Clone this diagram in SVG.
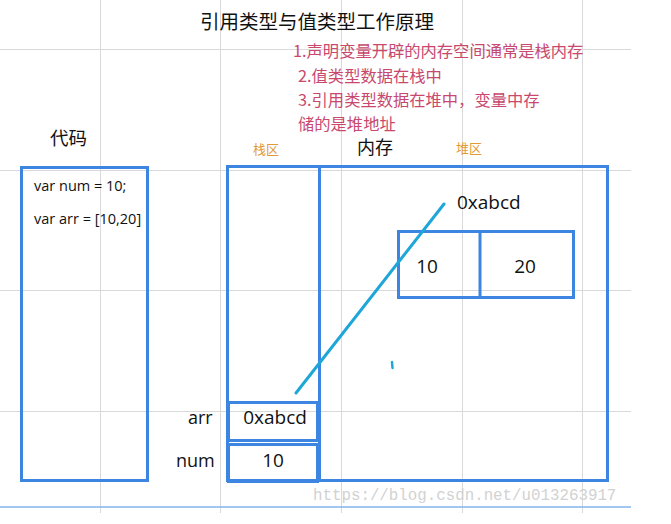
<svg xmlns="http://www.w3.org/2000/svg" width="671" height="524" viewBox="0 0 671 524">
<style>
.grid{stroke:#d9d9d9;stroke-width:1;fill:none}
.box{fill:none;stroke:#3c86e2;stroke-width:3}
.cjk{font-family:"Noto Sans CJK SC","Noto Sans",sans-serif}
.lat{font-family:"Open Sans","Noto Sans",sans-serif;fill:#111}
.note{font-family:"Noto Sans CJK SC",sans-serif;font-size:16.3px;fill:#c8486e}
.area{font-family:"Noto Sans CJK SC",sans-serif;font-size:13px;fill:#e19a3a}
</style>
<rect width="671" height="524" fill="#fff"/>
<g id="grid">
<line class="grid" x1="0" y1="49.5" x2="631" y2="49.5"/>
<line class="grid" x1="0" y1="170.5" x2="631" y2="170.5"/>
<line class="grid" x1="0" y1="290.5" x2="631" y2="290.5"/>
<line class="grid" x1="0" y1="411.5" x2="631" y2="411.5"/>
<line class="grid" x1="100.5" y1="0" x2="100.5" y2="513"/>
<line class="grid" x1="220.5" y1="0" x2="220.5" y2="513"/>
<line class="grid" x1="341.5" y1="0" x2="341.5" y2="513"/>
<line class="grid" x1="462.5" y1="0" x2="462.5" y2="513"/>
<line class="grid" x1="582.5" y1="0" x2="582.5" y2="513"/>
<line x1="0" y1="507" x2="631" y2="507" stroke="#82b4ec" stroke-width="1.5"/>
</g>
<g id="title">
<text class="cjk" x="200" y="29" font-size="19.5" fill="#111">引用类型与值类型工作原理</text>
</g>
<g id="notes">
<text class="note" x="293" y="57">1.声明变量开辟的内存空间通常是栈内存</text>
<text class="note" x="298" y="82">2.值类型数据在栈中</text>
<text class="note" x="298" y="106">3.引用类型数据在堆中，变量中存</text>
<text class="note" x="298" y="130">储的是堆地址</text>
</g>
<g id="code">
<text class="cjk" x="50" y="145" font-size="18.5" fill="#111">代码</text>
<rect class="box" x="21.5" y="167.5" width="126" height="313"/>
<text class="lat" x="34" y="191" font-size="14.5">var num = 10;</text>
<text class="lat" x="34" y="224" font-size="14.5">var arr = [10,20]</text>
</g>
<g id="memory">
<text class="cjk" x="357" y="154" font-size="18" fill="#111">内存</text>
<text class="area" x="253" y="154">栈区</text>
<text class="area" x="456" y="153">堆区</text>
<rect class="box" x="227.5" y="166.5" width="380" height="314"/>
<line class="box" x1="319.5" y1="166" x2="319.5" y2="482"/>
</g>
<g id="stack-arr">
<rect class="box" x="228.5" y="402.5" width="89" height="38"/>
<text class="lat" x="188" y="424" font-size="18">arr</text>
<text class="lat" x="275" y="424" font-size="19" text-anchor="middle">0xabcd</text>
</g>
<g id="stack-num">
<rect class="box" x="228.5" y="444.5" width="89" height="37"/>
<text class="lat" x="176" y="467" font-size="18">num</text>
<text class="lat" x="273" y="467" font-size="19" text-anchor="middle">10</text>
</g>
<g id="heap-array">
<rect class="box" x="398.5" y="231.5" width="175" height="66"/>
<line class="box" x1="480" y1="231" x2="480" y2="299"/>
<text class="lat" x="427" y="273" font-size="19" text-anchor="middle">10</text>
<text class="lat" x="525" y="273" font-size="19" text-anchor="middle">20</text>
<text class="lat" x="457" y="209" font-size="19">0xabcd</text>
</g>
<g id="connectors">
<line x1="296" y1="393" x2="444" y2="204" stroke="#1fa6d9" stroke-width="3" stroke-linecap="round"/>
<line x1="392" y1="362" x2="392.5" y2="368" stroke="#1fa6d9" stroke-width="2.5" stroke-linecap="round"/>
</g>
<g id="watermark">
<text x="313" y="500" font-family="Liberation Mono,monospace" font-size="15.8" fill="#d2d2d2">https://blog.csdn.net/u013263917</text>
</g>
</svg>
